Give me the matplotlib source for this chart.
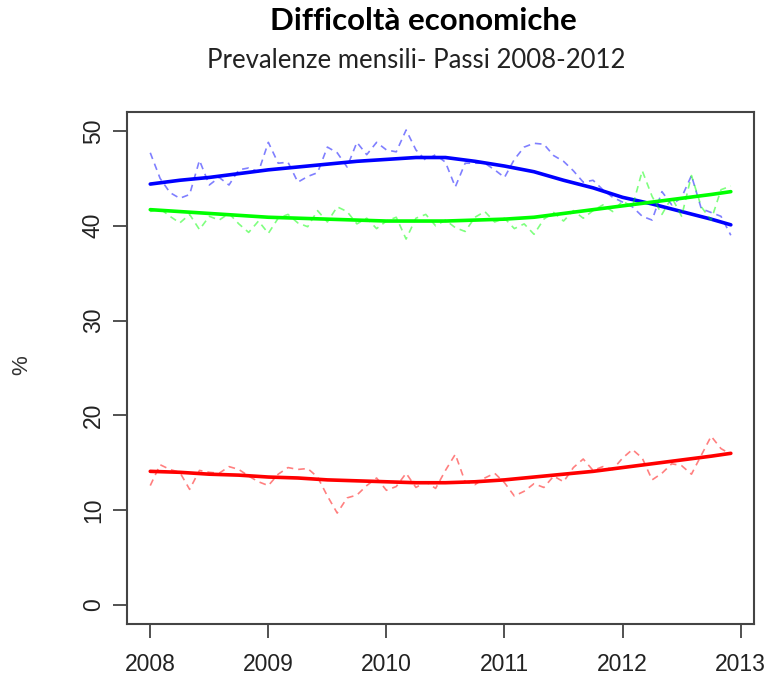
import numpy as np
import matplotlib
matplotlib.use("Agg")
import matplotlib.pyplot as plt

# monthly prevalences (%), January 2008 - December 2012
months = 2008 + np.arange(60) / 12.0

blue_monthly = [47.7, 45.0, 43.5, 42.9, 43.3, 46.9, 44.3, 45.1, 44.3, 45.9,
                46.1, 45.7, 48.8, 46.6, 46.7, 44.6, 45.2, 45.6, 48.3, 47.7,
                46.2, 48.8, 47.5, 48.8, 48.0, 47.8, 50.1, 48.0, 46.9, 47.5,
                46.7, 44.1, 46.6, 46.6, 46.6, 45.9, 45.1, 47.0, 48.3, 48.7,
                48.6, 47.4, 46.8, 45.8, 44.6, 44.8, 43.8, 43.0, 42.5, 42.0,
                41.0, 40.6, 43.6, 42.2, 43.0, 45.3, 41.8, 41.4, 41.0, 39.0]

green_monthly = [41.5, 41.8, 41.0, 40.3, 41.2, 39.6, 41.0, 40.6, 41.3, 40.2,
                 39.3, 40.5, 39.2, 40.8, 41.2, 40.3, 39.9, 41.6, 40.4, 42.0,
                 41.5, 40.2, 40.8, 39.7, 40.5, 40.9, 38.6, 40.8, 41.2, 40.0,
                 40.6, 39.8, 39.4, 40.9, 41.5, 40.4, 40.8, 39.7, 40.2, 39.1,
                 40.7, 41.4, 40.5, 41.6, 40.8, 41.6, 42.2, 41.5, 42.6, 42.0,
                 45.8, 43.1, 41.2, 43.0, 41.0, 45.3, 42.0, 40.6, 43.8, 44.2]

red_monthly = [12.6, 14.8, 14.3, 14.0, 12.2, 14.2, 14.0, 13.9, 14.6, 14.3,
               13.6, 13.0, 12.6, 13.8, 14.5, 14.3, 14.4, 13.5, 11.5, 9.7,
               11.3, 11.6, 12.6, 13.4, 12.1, 12.5, 13.9, 12.4, 13.0, 12.3,
               14.2, 15.9, 13.0, 12.7, 13.4, 13.9, 12.9, 11.5, 12.0, 12.8,
               12.4, 13.6, 13.0, 14.5, 15.4, 14.2, 14.6, 14.3, 15.5, 16.4,
               15.5, 13.2, 13.9, 14.9, 14.7, 13.8, 15.8, 17.8, 16.5, 15.9]

# smoothed trend, sampled every third month plus the last one
trend_idx = [0, 3, 6, 9, 12, 15, 18, 21, 24, 27, 30, 33, 36, 39, 42, 45,
             48, 51, 54, 57, 59]
blue_trend = [44.4, 44.8, 45.1, 45.5, 45.9, 46.2, 46.5, 46.8, 47.0, 47.2,
              47.2, 46.8, 46.3, 45.7, 44.8, 44.0, 43.0, 42.3, 41.5, 40.7, 40.1]
green_trend = [41.7, 41.5, 41.3, 41.1, 40.9, 40.8, 40.7, 40.6, 40.5, 40.5,
               40.5, 40.6, 40.7, 40.9, 41.3, 41.7, 42.1, 42.5, 42.9, 43.3, 43.6]
red_trend = [14.1, 14.0, 13.8, 13.7, 13.5, 13.4, 13.2, 13.1, 13.0, 12.9,
             12.9, 13.0, 13.2, 13.5, 13.8, 14.1, 14.5, 14.9, 15.3, 15.7, 16.0]

year_ticks = [2008, 2009, 2010, 2011, 2012, 2013]
pct_ticks = [0, 10, 20, 30, 40, 50]

plt.rcParams['font.family'] = ['Liberation Sans', 'DejaVu Sans']

fig = plt.figure(figsize=(7.73, 6.84), dpi=100)
W, H = 773, 684
ax = fig.add_axes([127 / W, 1 - 624 / H, (754 - 127) / W, (624 - 112) / H])

trend_x = months[trend_idx]
series = [(blue_monthly, blue_trend, '#0000ff'),
          (green_monthly, green_trend, '#00ff00'),
          (red_monthly, red_trend, '#ff0000')]
for monthly, trend, col in series:
    ax.plot(months, monthly, color=col, alpha=0.5, lw=1.2,
            linestyle=(0, (4, 3)))
    ax.plot(trend_x, trend, color=col, lw=2.6, solid_capstyle='round')

ax.set_xlim(2007.803, 2013.113)
ax.set_ylim(-2, 52)
ax.set_xticks(year_ticks)
ax.set_xticklabels([str(y) for y in year_ticks])
ax.set_yticks(pct_ticks)
ax.set_yticklabels([str(v) for v in pct_ticks], rotation=90, va='center')
ax.tick_params(direction='out', length=10, width=1.2, colors='#333333',
               labelsize=16.5, labelcolor='#222222')
ax.tick_params(axis='x', pad=11)
ax.tick_params(axis='y', pad=6)
for sp in ax.spines.values():
    sp.set_color('#444444')
    sp.set_linewidth(1.5)

fig.text(22 / W, 1 - 365 / H, '%', rotation=90, ha='center', va='center',
         fontsize=16, color='#333333')

fig.text(423 / W, 1 - 21 / H, 'Difficoltà economiche', ha='center',
         va='center', fontsize=22.5, fontweight='bold', family=['Lato', 'DejaVu Sans'])
fig.text(416 / W, 1 - 60 / H, 'Prevalenze mensili- Passi 2008-2012',
         ha='center', va='center', fontsize=18.5, family=['Lato', 'DejaVu Sans'],
         color='#222222')

fig.savefig('out.png', dpi=100)
